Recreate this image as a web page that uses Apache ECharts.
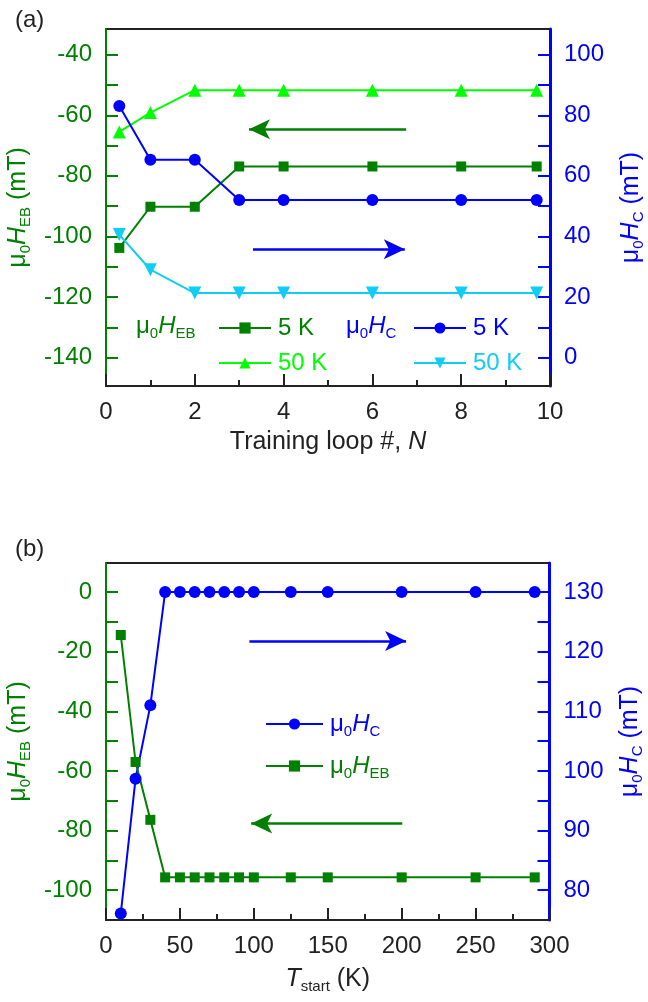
<!DOCTYPE html>
<html><head><meta charset="utf-8">
<script src="https://cdn.jsdelivr.net/npm/echarts@6/dist/echarts.min.js"></script>
<style>html,body{margin:0;padding:0;background:#fff}#c{width:648px;height:1002px}</style>
</head><body><div id="c"></div>
<script>
// ---------- Panel (a) data ----------
const loopN   = [0.3, 1, 2, 3, 4, 6, 8, 9.7];
const hebA5K  = [-103.8, -90.2, -90.2, -76.9, -76.9, -76.9, -76.9, -76.9];
const hebA50K = [-65.5, -59.1, -51.7, -51.7, -51.7, -51.7, -51.7, -51.7];
const hcA5K   = [83.1, 65.3, 65.3, 52.0, 52.0, 52.0, 52.0, 52.0];
const hcA50K  = [40.6, 29.0, 21.3, 21.3, 21.3, 21.3, 21.3, 21.3];
// ---------- Panel (b) data ----------
const tStart = [10, 20, 30, 40, 50, 60, 70, 80, 90, 100, 125, 150, 200, 250, 290];
const hcB    = [76.1, 98.7, 111.0, 130.0, 130.0, 130.0, 130.0, 130.0, 130.0, 130.0, 130.0, 130.0, 130.0, 130.0, 130.0];
const hebB   = [-14.4, -57.0, -76.4, -95.7, -95.7, -95.7, -95.7, -95.7, -95.7, -95.7, -95.7, -95.7, -95.7, -95.7, -95.7];
// ---------- tick labels ----------
const aLeftLabels  = [-140, -120, -100, -80, -60, -40];
const aLeftTicks   = [-140, -130, -120, -110, -100, -90, -80, -70, -60, -50, -40];
const aRightLabels = [0, 20, 40, 60, 80, 100];
const aRightTicks  = [0, 10, 20, 30, 40, 50, 60, 70, 80, 90, 100];
const bLeftLabels  = [-100, -80, -60, -40, -20, 0];
const bLeftTicks   = [-100, -90, -80, -70, -60, -50, -40, -30, -20, -10, 0];
const bRightLabels = [80, 90, 100, 110, 120, 130];
const bRightTicks  = [80, 85, 90, 95, 100, 105, 110, 115, 120, 125, 130];
// ---------- arrows (data coords: tail, head) ----------
const arrowHebA = [[6.76, -64.6], [3.22, -64.6]];
const arrowHcA  = [[3.31, 35.8], [6.73, 35.8]];
const arrowHcB  = [[97, 121.8], [203, 121.8]];
const arrowHebB = [[200.4, -77.6], [98.2, -77.6]];

const FONT = 'Liberation Sans, Arial, Helvetica, sans-serif';
const DG = '#008000', LG = '#00ff00', BL = '#0000ff', CY = '#10cdf5', TX = '#222222';
const FS = 24, NFS = 25, SUB = 15;

function rich(color, size) {
  return {
    n: {fontSize: size, lineHeight: 30, color, fontFamily: FONT, fontWeight: 'normal'},
    i: {fontSize: size, lineHeight: 30, color, fontFamily: FONT, fontStyle: 'italic', fontWeight: 'normal'},
    s: {fontSize: SUB, lineHeight: 14, color, fontFamily: FONT, verticalAlign: 'bottom', fontWeight: 'normal'}
  };
}
const pairs = (x, y) => x.map((v, i) => [v, y[i]]);

function xAxisCfg(gi, min, max, interval, name, gap) {
  return {
    gridIndex: gi, type: 'value', min, max, interval,
    name, nameLocation: 'middle', nameGap: gap,
    nameTextStyle: {rich: rich(TX, NFS)},
    axisLine: {show: true, onZero: false, lineStyle: {color: TX, width: 2}},
    axisTick: {show: true, inside: true, length: 12, lineStyle: {color: TX, width: 2}},
    minorTick: {show: true, splitNumber: 2, length: 6, lineStyle: {color: TX, width: 2}},
    axisLabel: {fontSize: FS, color: TX, fontFamily: FONT, margin: 14, showMinLabel: true, showMaxLabel: true},
    splitLine: {show: false}
  };
}
function yAxisCfg(gi, pos, min, max, labels, ticks, color, width, name, gap) {
  return {
    gridIndex: gi, type: 'value', position: pos, min, max,
    name, nameLocation: 'middle', nameGap: gap, nameRotate: 90,
    nameTextStyle: {rich: rich(color, NFS)},
    axisLine: {show: true, onZero: false, lineStyle: {color, width}},
    axisTick: {show: true, inside: true, length: 12, customValues: ticks, lineStyle: {color, width: 2}},
    axisLabel: {fontSize: FS, color, fontFamily: FONT, margin: 14, customValues: labels},
    splitLine: {show: false}
  };
}
function arrow(pts, color) {
  return {
    silent: true, animation: false,
    symbol: ['none', 'arrow'], symbolSize: [15, 21],
    label: {show: false},
    lineStyle: {type: 'solid', width: 2.5, color},
    emphasis: {disabled: true},
    data: [[{coord: pts[0]}, {coord: pts[1]}]]
  };
}
function legendCfg(name, left, top, color, width, text) {
  return {
    data: [name], left, top, orient: 'horizontal', padding: 0,
    itemWidth: width, itemHeight: 14, itemGap: 0, selectedMode: false,
    lineStyle: {width: 2},
    formatter: () => text,
    textStyle: {color, fontSize: FS, fontFamily: FONT, padding: [0, 0, 0, 2], rich: rich(color, FS)}
  };
}

const hebName = '{n|μ}{s|0}{i|H}{s|EB}{n| (mT)}';
const hcName  = '{n|μ}{s|0}{i|H}{s|C}{n| (mT)}';

const option = {
  animation: false,
  backgroundColor: '#ffffff',
  textStyle: {fontFamily: FONT},
  title: [
    {text: '(a)', left: 15, top: 5, padding: 0, textStyle: {fontSize: FS, fontWeight: 'normal', color: TX, fontFamily: FONT, lineHeight: 30}},
    {text: '(b)', left: 15, top: 534, padding: 0, textStyle: {fontSize: FS, fontWeight: 'normal', color: TX, fontFamily: FONT, lineHeight: 30}},
    {text: '{n|μ}{s|0}{i|H}{s|EB}', left: 136, top: 311, padding: 0, textStyle: {fontWeight: 'normal', rich: rich(DG, FS)}},
    {text: '{n|μ}{s|0}{i|H}{s|C}', left: 346, top: 311, padding: 0, textStyle: {fontWeight: 'normal', rich: rich(BL, FS)}}
  ],
  legend: [
    legendCfg('HEB 5 K', 218, 316, DG, 52, '5 K'),
    legendCfg('HEB 50 K', 218, 351, LG, 52, '50 K'),
    legendCfg('HC 5 K', 413, 316, BL, 52, '5 K'),
    legendCfg('HC 50 K', 413, 351, CY, 52, '50 K'),
    legendCfg('HC b', 265, 712, BL, 57, '{n|μ}{s|0}{i|H}{s|C}'),
    legendCfg('HEB b', 265, 754, DG, 57, '{n|μ}{s|0}{i|H}{s|EB}')
  ],
  grid: [
    {left: 106, top: 29, width: 444, height: 357, show: true, borderColor: TX, borderWidth: 2, backgroundColor: 'transparent', outerBoundsMode: 'none', containLabel: false},
    {left: 106, top: 563, width: 443.5, height: 357, show: true, borderColor: TX, borderWidth: 2, backgroundColor: 'transparent', outerBoundsMode: 'none', containLabel: false}
  ],
  xAxis: [
    xAxisCfg(0, 0, 10, 2, '{n|Training loop #, }{i|N}', 41),
    xAxisCfg(1, 0, 300, 50, '{i|T}{s|start}{n| (K)}', 44)
  ],
  yAxis: [
    yAxisCfg(0, 'left', -149.4, -31.5, aLeftLabels, aLeftTicks, DG, 2, hebName, 70),
    yAxisCfg(0, 'right', -9.4, 108.5, aRightLabels, aRightTicks, BL, 3, hcName, 66),
    yAxisCfg(1, 'left', -110, 9.75, bLeftLabels, bLeftTicks, DG, 2, hebName, 70),
    yAxisCfg(1, 'right', 75, 134.875, bRightLabels, bRightTicks, BL, 3, hcName, 66)
  ],
  series: [
    {name: 'HEB 5 K', type: 'line', xAxisIndex: 0, yAxisIndex: 0, data: pairs(loopN, hebA5K),
     symbol: 'rect', symbolSize: 10, color: DG, lineStyle: {width: 2, color: DG}, itemStyle: {color: DG},
     markLine: arrow(arrowHebA, DG)},
    {name: 'HEB 50 K', type: 'line', xAxisIndex: 0, yAxisIndex: 0, data: pairs(loopN, hebA50K),
     symbol: 'triangle', symbolSize: 13, color: LG, lineStyle: {width: 2, color: LG}, itemStyle: {color: LG}},
    {name: 'HC 5 K', type: 'line', xAxisIndex: 0, yAxisIndex: 1, data: pairs(loopN, hcA5K),
     symbol: 'circle', symbolSize: 12, color: BL, lineStyle: {width: 2, color: BL}, itemStyle: {color: BL},
     markLine: arrow(arrowHcA, BL)},
    {name: 'HC 50 K', type: 'line', xAxisIndex: 0, yAxisIndex: 1, data: pairs(loopN, hcA50K),
     symbol: 'triangle', symbolRotate: 180, symbolSize: 13, color: CY, lineStyle: {width: 2, color: CY}, itemStyle: {color: CY}},
    {name: 'HC b', type: 'line', xAxisIndex: 1, yAxisIndex: 3, data: pairs(tStart, hcB),
     symbol: 'circle', symbolSize: 12, color: BL, lineStyle: {width: 2, color: BL}, itemStyle: {color: BL},
     markLine: arrow(arrowHcB, BL)},
    {name: 'HEB b', type: 'line', xAxisIndex: 1, yAxisIndex: 2, data: pairs(tStart, hebB),
     symbol: 'rect', symbolSize: 10, color: DG, lineStyle: {width: 2, color: DG}, itemStyle: {color: DG},
     markLine: arrow(arrowHebB, DG)}
  ]
};
const chart = echarts.init(document.getElementById('c'), null, {renderer: 'canvas'});
chart.setOption(option);
</script></body></html>
